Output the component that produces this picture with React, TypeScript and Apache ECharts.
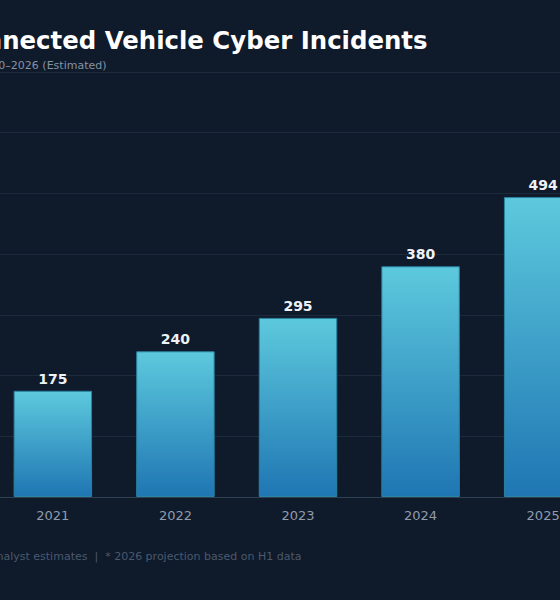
import React, { useEffect, useRef } from "react";
import * as echarts from "echarts";

const categories = ["2020", "2021", "2022", "2023", "2024", "2025", "2026*"];
const incidents = [130, 175, 240, 295, 380, 494, 610];
const yTicks = { min: 0, max: 700, interval: 100 };

const titleText = "Connected Vehicle Cyber Incidents";
const subtitleText = "2020–2026 (Estimated)";
const footnoteText =
  "Source: Industry reports & analyst estimates  |  * 2026 projection based on H1 data";

const CHART_W = 956;
const OFFSET_X = -199.5;

export default function App() {
  const ref = useRef<HTMLDivElement>(null);

  useEffect(() => {
    if (!ref.current) return;
    const chart = echarts.init(ref.current, undefined, { renderer: "svg" });
    const font = "DejaVu Sans, sans-serif";
    chart.setOption({
      animation: false,
      backgroundColor: "#0f1a2b",
      textStyle: { fontFamily: font },
      grid: { left: 68, right: 30, top: 72, bottom: 103 },
      graphic: [
        {
          type: "text",
          x: 427 - OFFSET_X,
          y: 40,
          style: {
            text: titleText,
            fill: "#ffffff",
            font: `bold 24.4px ${font}`,
            textAlign: "right",
            textVerticalAlign: "middle",
          },
        },
        {
          type: "text",
          x: 106 - OFFSET_X,
          y: 65.5,
          style: {
            text: subtitleText,
            fill: "#8593a6",
            font: `11px ${font}`,
            textAlign: "right",
            textVerticalAlign: "middle",
          },
        },
        {
          type: "text",
          x: 301 - OFFSET_X,
          y: 556,
          style: {
            text: footnoteText,
            fill: "#4b596d",
            font: `11px ${font}`,
            textAlign: "right",
            textVerticalAlign: "middle",
          },
        },
      ],
      xAxis: {
        type: "category",
        data: categories,
        axisTick: { show: false },
        axisLine: { lineStyle: { color: "#2f3f54", width: 1 } },
        axisLabel: { color: "#919cad", fontSize: 13, margin: 12 },
      },
      yAxis: {
        type: "value",
        min: yTicks.min,
        max: yTicks.max,
        interval: yTicks.interval,
        axisLine: { show: false },
        axisTick: { show: false },
        axisLabel: { color: "#8e9aab", fontSize: 12 },
        splitLine: { lineStyle: { color: "#1b2a3d", width: 1 } },
      },
      series: [
        {
          type: "bar",
          data: incidents,
          barWidth: "64%",
          itemStyle: {
            borderColor: "#2b83a3",
            borderWidth: 1,
            color: new echarts.graphic.LinearGradient(0, 0, 0, 1, [
              { offset: 0, color: "#5dc9dd" },
              { offset: 1, color: "#1f76b3" },
            ]),
          },
          label: {
            show: true,
            position: "top",
            distance: 5,
            color: "#eef2f6",
            fontSize: 14,
            fontWeight: "bold",
          },
        },
      ],
    });
    return () => chart.dispose();
  }, []);

  return (
    <div
      style={{
        position: "fixed",
        left: 0,
        top: 0,
        width: 560,
        height: 600,
        overflow: "hidden",
        background: "#0f1a2b",
      }}
    >
      <div
        ref={ref}
        style={{
          position: "absolute",
          left: OFFSET_X,
          top: 0,
          width: CHART_W,
          height: 600,
        }}
      />
    </div>
  );
}
